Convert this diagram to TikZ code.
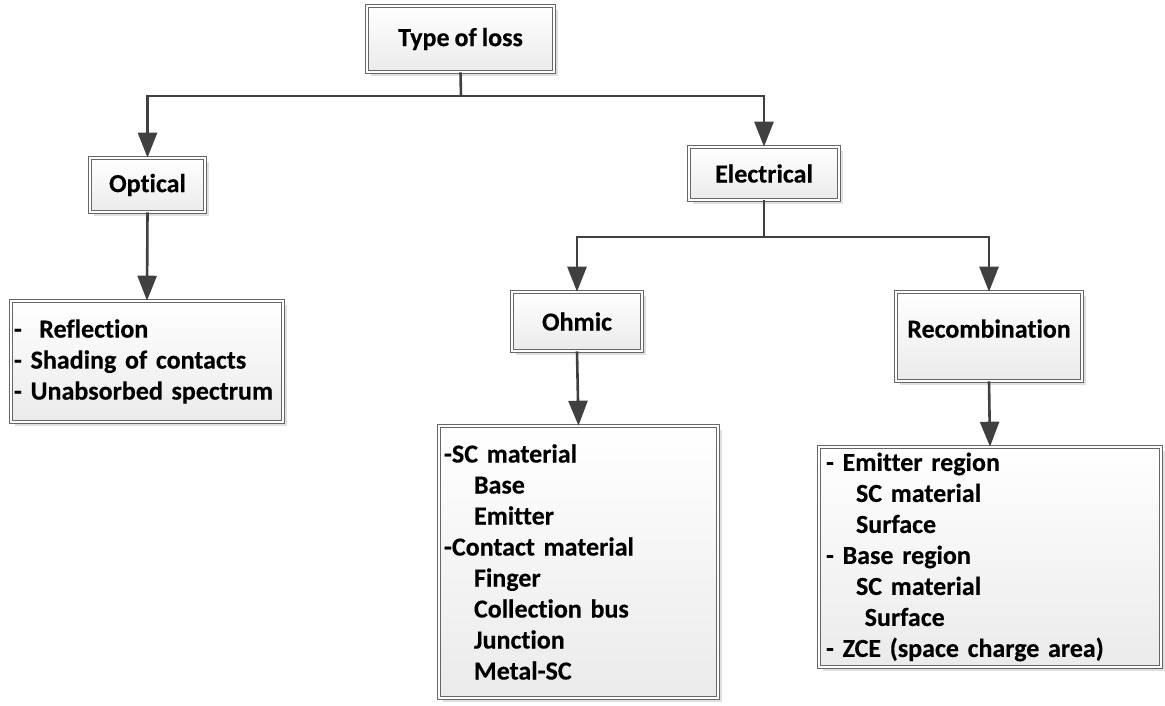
\documentclass[tikz,border=0pt]{standalone}
\usepackage{fontspec}
\setmainfont[Ligatures=NoCommon, WordSpace=0.85, BoldFeatures={FakeBold=0.3}]{Carlito}
\usetikzlibrary{arrows.meta,shadows}

\newcommand{\sublevel}{\hspace*{30pt}}
\hyphenpenalty=10000

\tikzset{
	lossbox/.style={draw=black!60, line width=0.6pt, double=white, double distance=2.6pt,
		top color=white, bottom color=black!8,
		drop shadow={shadow xshift=4pt, shadow yshift=-4pt, fill=black!12, opacity=1},
		font=\bfseries\fontsize{26}{31}\selectfont, inner sep=0pt, align=center},
	listbox/.style={lossbox, align=left, inner xsep=5pt},
	conn/.style={draw=black!75, line width=2.6pt,
		-{Triangle[length=25pt,width=19pt]}},
	link/.style={draw=black!75, line width=2.6pt}
}

\begin{document}
\begin{tikzpicture}[x=1pt,y=-1pt]

	\useasboundingbox (0,0) rectangle (1165,705);

	% upper level
	\node[lossbox, minimum width=187pt, minimum height=66pt] (loss) at (460.5,39) {Type of loss};
	\node[lossbox, minimum width=115pt, minimum height=54pt] (optical) at (147.5,185) {Optical};
	\node[lossbox, minimum width=150pt, minimum height=53pt] (electrical) at (764,173.5) {Electrical};

	% electrical branches
	\node[lossbox, minimum width=130pt, minimum height=59pt] (ohmic) at (577,321.5) {Ohmic};
	\node[lossbox, minimum width=186pt, minimum height=89pt] (recomb) at (989,336.5)
		{Recombination\\[-15pt]};

	% lists
	\node[listbox, inner xsep=3pt, text width=266pt, minimum height=121pt] (optlist) at (147,361.5)
		{-\ \ Reflection\\- Shading of contacts\\- Unabsorbed spectrum};
	\node[listbox, text width=269pt, minimum height=272pt] (ohmlist) at (578.5,562)
		{-SC material\\\sublevel Base\\\sublevel Emitter\\-Contact material\\\sublevel Finger\\
		 \sublevel Collection bus\\\sublevel Junction\\\sublevel Metal-SC};
	\node[listbox, inner xsep=7pt, text width=328pt, minimum height=220pt] (reclist) at (990,557)
		{- Emitter region\\\sublevel SC material\\\sublevel Surface\\- Base region\\
		 \sublevel SC material\\\sublevel\ Surface\\- ZCE (space charge area)};

	% split points
	\coordinate (split1) at (461,96);
	\coordinate (split2) at (764,237);

	% connectors
	\draw[link] (loss.south) -- (split1);
	\draw[conn] (split1) -| (optical.north);
	\draw[conn] (split1) -| (electrical.north);
	\draw[conn] (optical.south) -- (optlist.north);
	\draw[link] (electrical.south) -- (split2);
	\draw[conn] (split2) -| (ohmic.north);
	\draw[conn] (split2) -| (recomb.north);
	\draw[conn] (ohmic.south) -- (ohmlist.north);
	\draw[conn] (recomb.south) -- (reclist.north);

\end{tikzpicture}
\end{document}
